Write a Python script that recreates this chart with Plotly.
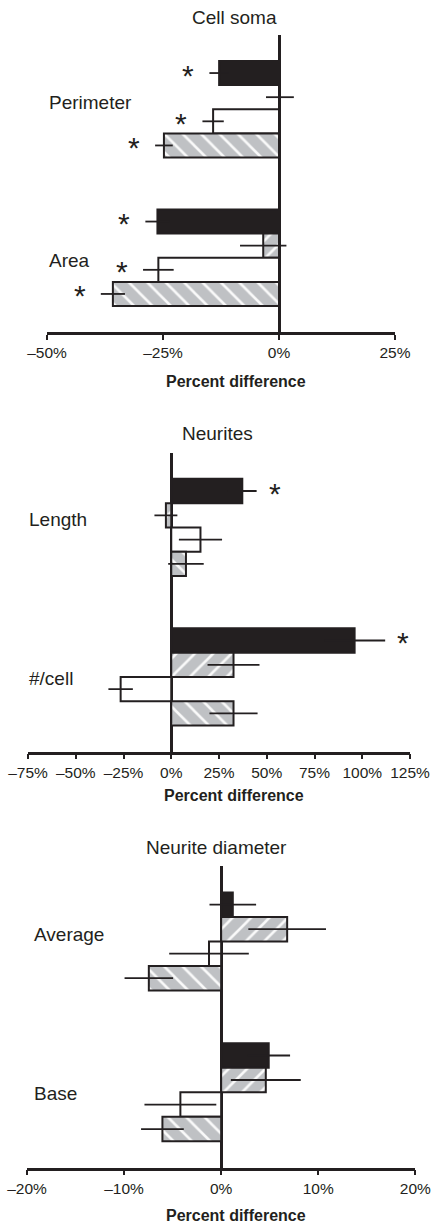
import plotly.graph_objects as go

# ---------------- data ----------------
series_names = ["Group 1", "Group 2", "Group 3", "Group 4"]

soma_categories = ["Perimeter", "Area"]
soma_solid = [-12.9, -26.2]
soma_solid_err = [2.1, 2.6]
soma_fwd = [0.2, -3.4]
soma_fwd_err = [3.0, 5.0]
soma_open = [-14.2, -26.0]
soma_open_err = [2.3, 3.3]
soma_back = [-24.8, -35.8]
soma_back_err = [1.9, 2.6]
soma_sig = [[True, True], [False, False], [True, True], [True, True]]
soma_ticks = [-50, -25, 0, 25]
soma_ticklabels = ["\u201350%", "\u201325%", "0%", "25%"]

neur_categories = ["Length", "#/cell"]
neur_solid = [37.2, 96.0]
neur_solid_err = [7.5, 16.0]
neur_fwd = [-2.8, 32.6]
neur_fwd_err = [6.0, 13.6]
neur_open = [15.3, -26.5]
neur_open_err = [11.3, 6.4]
neur_back = [7.7, 32.6]
neur_back_err = [9.3, 12.6]
neur_sig = [[True, True], [False, False], [False, False], [False, False]]
neur_ticks = [-75, -50, -25, 0, 25, 50, 75, 100, 125]
neur_ticklabels = ["\u201375%", "\u201350%", "\u201325%", "0%", "25%", "50%", "75%", "100%", "125%"]

diam_categories = ["Average", "Base"]
diam_solid = [1.2, 4.9]
diam_solid_err = [2.4, 2.2]
diam_fwd = [6.8, 4.6]
diam_fwd_err = [4.0, 3.6]
diam_open = [-1.25, -4.2]
diam_open_err = [4.1, 3.7]
diam_back = [-7.45, -6.05]
diam_back_err = [2.5, 2.2]
diam_sig = [[False, False], [False, False], [False, False], [False, False]]
diam_ticks = [-20, -10, 0, 10, 20]
diam_ticklabels = ["\u201320%", "\u201310%", "0%", "10%", "20%"]

titles = ["Cell soma", "Neurites", "Neurite diameter"]
x_title = "Percent difference"

# ---------------- style ----------------
W, H = 441, 1225
INK = "#231f20"
GRAY = "#bfc1c4"
FONT = "Liberation Sans, Arial, Helvetica, sans-serif"
BARGAP = 0.35

panels = [
    dict(cats=soma_categories,
         vals=[soma_solid, soma_fwd, soma_open, soma_back],
         errs=[soma_solid_err, soma_fwd_err, soma_open_err, soma_back_err],
         sig=soma_sig, ticks=soma_ticks, ticklabels=soma_ticklabels,
         xpx=(47, 395), ypx=(35, 332), title_pos=(234, 18), xt_pos=(236, 382),
         label_x=47, label_shift=[7, -3]),
    dict(cats=neur_categories,
         vals=[neur_solid, neur_fwd, neur_open, neur_back],
         errs=[neur_solid_err, neur_fwd_err, neur_open_err, neur_back_err],
         sig=neur_sig, ticks=neur_ticks, ticklabels=neur_ticklabels,
         xpx=(28, 410), ypx=(452.7, 751.7), title_pos=(217, 433), xt_pos=(234, 795),
         label_x=27, label_shift=[8, -2]),
    dict(cats=diam_categories,
         vals=[diam_solid, diam_fwd, diam_open, diam_back],
         errs=[diam_solid_err, diam_fwd_err, diam_open_err, diam_back_err],
         sig=diam_sig, ticks=diam_ticks, ticklabels=diam_ticklabels,
         xpx=(27, 415.3), ypx=(866, 1167.7), title_pos=(216, 847), xt_pos=(236, 1215),
         label_x=32, label_shift=[7, -1]),
]

def series_marker(i):
    line = dict(color=INK, width=2)
    if i == 0:
        return dict(color=INK, line=line)
    if i == 1:
        return dict(color=GRAY, line=line,
                    pattern=dict(shape="/", fillmode="overlay", fgcolor="white",
                                 fgopacity=0.9, size=13, solidity=0.2))
    if i == 2:
        return dict(color="white", line=line)
    return dict(color=GRAY, line=line,
                pattern=dict(shape="\\", fillmode="overlay", fgcolor="white",
                             fgopacity=0.9, size=13, solidity=0.2))

fig = go.Figure()
annotations = []
layout = {}

n_series = 4
group_w = 1 - BARGAP
bar_w = group_w / n_series

for p_i, p in enumerate(panels):
    suffix = "" if p_i == 0 else str(p_i + 1)
    xa, ya = "x" + suffix, "y" + suffix
    for s_i in range(n_series):
        fig.add_trace(go.Bar(
            y=p["cats"], x=p["vals"][s_i], orientation="h",
            name=series_names[s_i], showlegend=False,
            marker=series_marker(s_i),
            error_x=dict(type="data", array=p["errs"][s_i], visible=True,
                         color=INK, thickness=1.8, width=0),
            xaxis=xa, yaxis=ya,
        ))
        # significance asterisks
        for c_i, cat in enumerate(p["cats"]):
            if p["sig"][s_i][c_i]:
                v = p["vals"][s_i][c_i]
                e = p["errs"][s_i][c_i]
                end = v - e if v < 0 else v + e
                off = -group_w / 2 + bar_w * (s_i + 0.5)
                annotations.append(dict(
                    x=end, y=c_i + off, xref=xa, yref=ya,
                    text="*", showarrow=False,
                    font=dict(family=FONT, size=30, color=INK),
                    xanchor="center", yanchor="middle",
                    xshift=-21 if v < 0 else 18, yshift=-2,
                ))
    # category labels
    for c_i, cat in enumerate(p["cats"]):
        annotations.append(dict(
            x=p["label_x"] / W, y=c_i, xref="paper", yref=ya,
            text=cat, showarrow=False, xanchor="left", yanchor="middle",
            yshift=p["label_shift"][c_i],
            font=dict(family=FONT, size=19, color=INK),
        ))
    # title
    annotations.append(dict(
        x=p["title_pos"][0] / W, y=1 - p["title_pos"][1] / H, xref="paper", yref="paper",
        text=titles[p_i], showarrow=False, xanchor="center", yanchor="middle",
        font=dict(family=FONT, size=19, color=INK),
    ))
    annotations.append(dict(
        x=p["xt_pos"][0] / W, y=1 - p["xt_pos"][1] / H, xref="paper", yref="paper",
        text="<b>" + x_title + "</b>", showarrow=False, xanchor="center", yanchor="middle",
        font=dict(family=FONT, size=16, color=INK),
    ))
    layout["xaxis" + suffix] = dict(
        domain=[p["xpx"][0] / W, p["xpx"][1] / W],
        anchor=ya, automargin=False,
        range=[p["ticks"][0], p["ticks"][-1]],
        tickmode="array", tickvals=p["ticks"], ticktext=p["ticklabels"],
        ticks="outside", ticklen=5, tickwidth=2, tickcolor=INK,
        showline=True, linecolor=INK, linewidth=2.5,
        zeroline=True, zerolinecolor=INK, zerolinewidth=2.5,
        showgrid=False,
        tickfont=dict(family=FONT, size=15.5, color=INK),
        fixedrange=True,
    )
    layout["yaxis" + suffix] = dict(
        domain=[1 - p["ypx"][1] / H, 1 - p["ypx"][0] / H],
        anchor=xa, automargin=False,
        type="category", categoryorder="array", categoryarray=p["cats"],
        range=[len(p["cats"]) - 0.5, -0.5],
        showticklabels=False, showgrid=False, zeroline=False, showline=False,
        ticks="", fixedrange=True,
    )

fig.update_layout(
    template="none",
    width=W, height=H,
    margin=dict(l=0, r=0, t=0, b=0, pad=0),
    autosize=False,
    paper_bgcolor="white", plot_bgcolor="white",
    font=dict(family=FONT, color=INK),
    barmode="group", bargap=BARGAP, bargroupgap=0,
    annotations=annotations,
    showlegend=False,
    **layout,
)

fig.write_html(
    "out.html",
    config={"displayModeBar": False},
    post_script="document.body.style.margin='0';document.body.style.overflow='hidden';",
)
